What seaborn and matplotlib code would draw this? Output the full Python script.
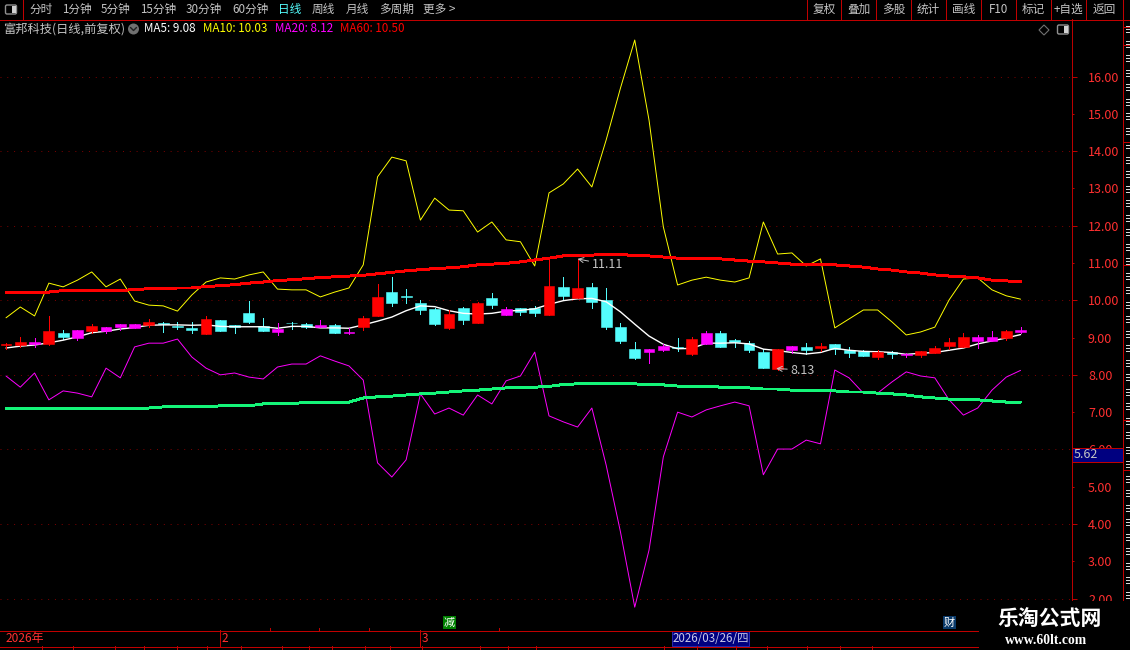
import numpy as np
import pandas as pd
import matplotlib
matplotlib.use('Agg')
import matplotlib.pyplot as plt
import matplotlib.patches as patches
import seaborn as sns

# candle values, kind: r = red, c = cyan, m = magenta
kinds = ['r','r','m','r','c','m','r','m','m','m','r','c','c','c','r','c','c','c','c','m',
         'c','c','m','c','m','r','r','c','c','c','c','r','c','r','c','m','c','c','r','c',
         'r','c','c','c','c','m','m','c','r','m','c','c','c','c','r','m','c','r','c','c',
         'c','r','c','m','r','r','r','r','m','m','r','m']
body_top = [8.84,8.88,8.88,9.17,9.12,9.20,9.31,9.28,9.36,9.36,9.42,9.39,9.30,9.25,9.50,9.47,9.33,9.66,9.31,9.23,
            9.39,9.36,9.33,9.33,9.15,9.52,10.09,10.22,10.12,9.93,9.77,9.63,9.79,9.93,10.06,9.77,9.79,9.79,10.38,10.36,
            10.33,10.36,10.01,9.28,8.69,8.69,8.77,8.74,8.96,9.12,9.12,8.93,8.85,8.61,8.69,8.77,8.74,8.77,8.83,8.66,
            8.64,8.61,8.61,8.56,8.64,8.72,8.88,9.01,9.01,9.01,9.17,9.20]
body_bottom = [8.81,8.80,8.84,8.84,9.01,8.99,9.17,9.17,9.28,9.26,9.33,9.36,9.28,9.20,9.09,9.17,9.28,9.42,9.17,9.15,
               9.38,9.28,9.28,9.12,9.13,9.28,9.58,9.93,10.10,9.74,9.36,9.25,9.47,9.39,9.87,9.60,9.69,9.66,9.60,10.12,
               10.06,9.95,9.28,8.91,8.45,8.61,8.66,8.72,8.56,8.83,8.74,8.88,8.66,8.18,8.15,8.66,8.66,8.73,8.69,8.58,
               8.50,8.48,8.56,8.53,8.53,8.58,8.77,8.74,8.91,8.91,8.99,9.15]
high = [8.85,9.01,8.99,9.58,9.20,9.20,9.36,9.28,9.36,9.36,9.50,9.42,9.42,9.42,9.58,9.47,9.33,9.98,9.52,9.39,
        9.42,9.39,9.47,9.36,9.25,9.58,10.44,10.63,10.30,10.01,9.79,9.74,9.82,9.95,10.20,9.82,9.79,9.85,11.14,10.63,
        11.11,10.47,10.33,9.39,8.88,8.69,8.83,8.99,9.01,9.17,9.17,8.96,8.91,8.69,8.69,8.77,8.85,8.85,8.83,8.74,
        8.66,8.66,8.64,8.58,8.64,8.77,8.99,9.12,9.07,9.17,9.20,9.28]
low = [8.69,8.74,8.74,8.80,8.96,8.93,9.12,9.12,9.20,9.25,9.28,9.15,9.23,9.12,9.09,9.17,9.12,9.39,9.17,9.07,
       9.23,9.25,9.28,9.12,9.09,9.20,9.58,9.85,9.93,9.63,9.33,9.23,9.36,9.39,9.79,9.60,9.60,9.58,9.60,10.01,
       10.06,9.79,9.23,8.85,8.42,8.31,8.64,8.64,8.53,8.83,8.74,8.74,8.61,8.18,8.13,8.58,8.56,8.64,8.56,8.48,
       8.50,8.42,8.45,8.48,8.48,8.58,8.69,8.74,8.72,8.91,8.93,9.12]

ma5 = [8.72,8.77,8.80,8.86,8.93,9.02,9.13,9.17,9.23,9.27,9.33,9.34,9.34,9.33,9.34,9.30,9.29,9.29,9.29,9.25,
       9.30,9.30,9.26,9.26,9.25,9.34,9.44,9.55,9.72,9.85,9.83,9.72,9.65,9.63,9.65,9.71,9.73,9.77,9.89,9.99,
       10.04,10.05,9.96,9.69,9.36,9.04,8.82,8.70,8.71,8.85,8.85,8.86,8.83,8.69,8.65,8.60,8.56,8.60,8.71,8.66,
       8.63,8.62,8.60,8.55,8.58,8.60,8.66,8.72,8.83,8.91,8.99,9.08]
ma10 = [9.53,9.82,9.58,10.46,10.36,10.54,10.76,10.36,10.57,9.98,9.87,9.85,9.71,10.14,10.49,10.60,10.57,10.68,10.76,10.30,
        10.28,10.28,10.09,10.22,10.33,10.95,13.31,13.84,13.74,12.15,12.74,12.42,12.40,11.83,12.10,11.62,11.57,10.92,12.88,13.12,
        13.52,13.04,14.30,15.69,16.98,14.83,11.97,10.41,10.54,10.62,10.54,10.49,10.60,12.10,11.24,11.27,10.92,11.11,9.26,9.50,
        9.74,9.74,9.42,9.07,9.15,9.28,10.01,10.57,10.60,10.28,10.12,10.03]
ma20 = [7.97,7.67,8.05,7.33,7.57,7.51,7.41,8.18,7.92,8.75,8.85,8.85,8.96,8.48,8.18,8.00,8.05,7.94,7.89,8.21,
        8.29,8.29,8.51,8.37,8.24,7.86,5.64,5.26,5.72,7.49,6.95,7.11,6.92,7.46,7.22,7.84,7.97,8.61,6.90,6.74,
        6.60,7.11,5.58,3.79,1.77,3.30,5.80,7.00,6.87,7.06,7.17,7.27,7.17,5.32,6.01,6.01,6.25,6.15,8.13,7.92,
        7.51,7.51,7.81,8.08,7.97,7.92,7.33,6.92,7.11,7.59,7.94,8.12]
ma60 = [10.22,10.22,10.22,10.22,10.26,10.26,10.26,10.26,10.26,10.29,10.31,10.31,10.33,10.33,10.37,10.39,10.42,10.46,10.49,10.53,
        10.55,10.58,10.61,10.63,10.65,10.67,10.71,10.75,10.79,10.82,10.85,10.87,10.90,10.95,10.97,10.99,11.03,11.08,11.13,11.19,
        11.20,11.21,11.24,11.24,11.19,11.19,11.16,11.13,11.13,11.11,11.11,11.08,11.05,11.03,11.00,10.97,10.97,10.95,10.95,10.92,
        10.89,10.84,10.81,10.76,10.73,10.68,10.65,10.63,10.60,10.54,10.52,10.50]
ma_green = [7.10,7.10,7.10,7.10,7.10,7.10,7.10,7.10,7.10,7.10,7.11,7.14,7.14,7.14,7.14,7.17,7.17,7.17,7.22,7.22,
            7.22,7.27,7.27,7.27,7.27,7.38,7.41,7.43,7.46,7.49,7.51,7.54,7.57,7.59,7.62,7.65,7.66,7.67,7.69,7.74,
            7.76,7.76,7.78,7.78,7.76,7.73,7.73,7.70,7.70,7.70,7.67,7.67,7.65,7.62,7.62,7.59,7.59,7.57,7.57,7.54,
            7.54,7.51,7.49,7.46,7.41,7.38,7.35,7.33,7.33,7.30,7.27,7.27]

price_ticks = list(range(2, 17))
last_price = '5.62'
top_buttons = ['复权', '叠加', '多股', '统计', '画线', 'F10', '标记', '+自选', '返回']
period_tabs = [('分时', 29), ('1分钟', 62), ('5分钟', 101), ('15分钟', 140), ('30分钟', 186), ('60分钟', 232),
               ('日线', 278), ('周线', 312), ('月线', 346), ('多周期', 379), ('更多 >', 423)]
ma_labels = [('MA5: 9.08', 144, '#ffffff'), ('MA10: 10.03', 203, '#ffff00'),
             ('MA20: 8.12', 275, '#ff00ff'), ('MA60: 10.50', 340, '#ff0000')]

RED_LINE = '#c00000'
GREY = '#c4c4c4'
RED = '#ff0000'
CYAN = '#54fcfc'
MAGENTA = '#ff00ff'
THIN = 0.65

sns.set_theme(style='dark', rc={'axes.facecolor': 'black', 'figure.facecolor': 'black', 'savefig.facecolor': 'black'})
plt.rcParams['font.family'] = ['Noto Sans CJK SC', 'DejaVu Sans']

df = pd.DataFrame({'day': np.arange(len(ma5)), 'ma5': ma5, 'ma10': ma10, 'ma20': ma20, 'ma60': ma60, 'green': ma_green})
top = np.array(body_top)
bottom = np.array(body_bottom)
kind = np.array(kinds)

fig = plt.figure(figsize=(11.3, 6.5), dpi=100)
ax = fig.add_axes([0, 20 / 650, 1072 / 1130, 611 / 650])

# moving averages, thin ones first
for col, colour, width, smooth in [('ma10', '#ffff00', 0.7, True), ('ma20', MAGENTA, 0.7, True),
                                   ('green', '#14f578', 1.4, False), ('ma60', RED, 1.4, False)]:
    sns.lineplot(data=df, x='day', y=col, color=colour, linewidth=width, ax=ax, estimator=None,
                 antialiased=smooth, legend=False, zorder=2)


def draw_candles(mask, colour, z):
    ax.vlines(df['day'][mask], np.array(low)[mask], np.array(high)[mask], color=colour, linewidth=THIN, zorder=z, antialiased=False)
    ax.bar(df['day'][mask], (top - bottom)[mask], bottom=bottom[mask], width=0.76, color=colour, edgecolor=colour,
           linewidth=0.4, zorder=z)


draw_candles(kind == 'c', CYAN, 3)
sns.lineplot(data=df, x='day', y='ma5', color='white', linewidth=1.0, ax=ax, estimator=None, legend=False, zorder=4)
draw_candles(kind == 'm', MAGENTA, 5)
draw_candles(kind == 'r', RED, 5)

# high / low markers
ax.annotate('11.11', xy=(40, 11.11), xytext=(41, 10.95), color=GREY, fontsize=9, va='center', zorder=6,
            arrowprops=dict(arrowstyle='->', color=GREY, lw=0.7, shrinkA=0, shrinkB=0))
ax.annotate('8.13', xy=(53.9, 8.17), xytext=(54.9, 8.13), color=GREY, fontsize=9, va='center', zorder=6,
            arrowprops=dict(arrowstyle='->', color=GREY, lw=0.7, shrinkA=0, shrinkB=0))

ax.set_xlim(-0.42, 74.6)
ax.set_ylim(1.157, 17.544)
ax.set_xticks([])
ax.set_xlabel('')
ax.set_ylabel('')
ax.yaxis.tick_right()
ax.set_yticks([p for p in price_ticks if p % 2 == 0])
ax.set_yticklabels(['%.2f' % p for p in price_ticks if p % 2 == 0])
ax.set_yticks([p for p in price_ticks if p % 2 == 1], minor=True)
ax.set_yticklabels(['%.2f' % p for p in price_ticks if p % 2 == 1], minor=True)
ax.tick_params(axis='y', which='major', length=3.6, width=0.7, color=RED_LINE, pad=8, labelcolor='#ff3030', labelsize=9, right=True)
ax.tick_params(axis='y', which='minor', length=1.5, width=0.7, color=RED_LINE, pad=10, labelcolor='#ff3030', labelsize=9, right=True)
ax.grid(False)
ax.yaxis.grid(True, which='major', color='#800000', linewidth=0.7, linestyle=(0, (1, 6)))
ax.set_axisbelow(True)
for name, spine in ax.spines.items():
    spine.set_visible(name == 'right')
    spine.set_color(RED_LINE)
    spine.set_linewidth(0.7)

# everything round the chart is screen furniture, drawn in pixel coordinates
ui = fig.add_axes([0, 0, 1, 1], zorder=10)
ui.set_xlim(0, 1130)
ui.set_ylim(650, 0)
ui.axis('off')
ui.patch.set_alpha(0)


def hline(y, x0, x1, colour=RED_LINE):
    ui.plot([x0, x1], [y, y], color=colour, linewidth=THIN, antialiased=False, solid_capstyle='butt')


def vline(x, y0, y1, colour=RED_LINE):
    ui.plot([x, x], [y0, y1], color=colour, linewidth=THIN, antialiased=False, solid_capstyle='butt')


def icon(x, y):
    ui.add_patch(patches.FancyBboxPatch((x, y), 11, 9, boxstyle='round,pad=0,rounding_size=1.5', fc='none', ec='#909090', lw=1))
    ui.add_patch(patches.Rectangle((x + 6, y + 1), 4, 7, fc='#d0d0d0', ec='none'))


hline(19.5, 0, 1130)
vline(23, 0, 19)
icon(5.5, 5)
for label, x in period_tabs:
    ui.text(x, 9.5, label, color=CYAN if label == '日线' else GREY, fontsize=8.4, va='center', ha='left')

dividers = [807, 841, 876, 911, 946, 981, 1016, 1051, 1086, 1123]
for x in dividers:
    vline(x, 0, 19)
for label, x0, x1 in zip(top_buttons, dividers[:-1], dividers[1:]):
    ui.text((x0 + x1) / 2, 9.5, label, color=GREY, fontsize=8.4, va='center', ha='center')

ui.text(3, 29, '富邦科技(日线,前复权)', color=GREY, fontsize=8.8, va='center', ha='left')
ui.add_patch(patches.Circle((133.5, 29), 5.5, fc='#707070', ec='none'))
ui.plot([130.5, 133.5, 136.5], [27.5, 30.5, 27.5], color='#202020', linewidth=1)
for label, x, colour in ma_labels:
    ui.text(x, 29, label, color=colour, fontsize=8.4, va='center', ha='left')

ui.add_patch(patches.Polygon([(1044, 25), (1049, 30), (1044, 35), (1039, 30)], closed=True, fc='none', ec='#707070', lw=0.8))
icon(1057.5, 25)

# right hand column is cut off by the window edge, only stubs of it show
vline(1123, 19, 604)
for y in np.arange(29, 600, 14.5):
    for step in [-3, 0, 3]:
        hline(y + step, 1126, 1130, '#d8d8d8')
for y in [27, 45, 142, 265, 420, 470]:
    hline(y, 1123, 1130)

# current price box
ui.add_patch(patches.Rectangle((1073, 447.5), 50, 14, fc='#000080', ec='none'))
hline(447.5, 1072, 1123)
hline(461.5, 1072, 1123)
ui.text(1074, 454.5, last_price, color=GREY, fontsize=9, va='center', ha='left')

# date strip
hline(630.5, 0, 978)
hline(646.5, 0, 978)
for x in [269.5, 319, 369, 499]:
    vline(x, 628, 630)
vline(219.5, 630, 646)
vline(420, 630, 646)
ui.text(6, 638.5, '2026年', color='#ff3030', fontsize=8.6, va='center', ha='left')
ui.text(221.5, 638.5, '2', color='#ff3030', fontsize=8.6, va='center', ha='left')
ui.text(422, 638.5, '3', color='#ff3030', fontsize=8.6, va='center', ha='left')
ui.add_patch(patches.Rectangle((672, 631), 77, 15, fc='#000080', ec='#3030c0', lw=0.6))
ui.text(710.5, 638.5, '2026/03/26/四', color='#c8c8e8', fontsize=8.3, va='center', ha='center')
ui.add_patch(patches.Rectangle((443, 616), 13, 13, fc='#008000', ec='none'))
ui.text(449.5, 622.5, '减', color='white', fontsize=8, va='center', ha='center')
ui.add_patch(patches.Rectangle((942.5, 616), 13, 13, fc='#0a3a6a', ec='none'))
ui.text(949, 622.5, '财', color='white', fontsize=8, va='center', ha='center')
for x in [42, 73, 115, 144, 177, 207, 241, 282, 309, 332, 365, 390, 422, 480, 508, 536, 664, 697, 736, 767, 807, 840, 872]:
    vline(x, 646, 650)

# watermark sits on its own black block
ui.add_patch(patches.Rectangle((978.5, 601), 152, 49, fc='black', ec='none', zorder=8))
ui.text(1050, 618.5, '乐淘公式网', color='white', fontsize=15, fontweight='bold', va='center', ha='center', zorder=9)
ui.text(1046, 640, 'www.60lt.com', color='white', fontsize=9.8, fontweight='bold', family='Liberation Serif',
        va='center', ha='center', zorder=9)

fig.savefig('out.png', dpi=100)
